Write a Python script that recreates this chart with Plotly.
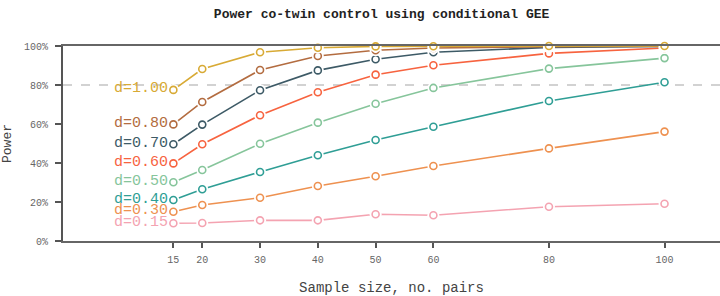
import plotly.graph_objects as go

sample_sizes = [15, 20, 30, 40, 50, 60, 80, 100]
labels = ["d=0.15", "d=0.30", "d=0.40", "d=0.50", "d=0.60", "d=0.70", "d=0.80", "d=1.00"]
colors = ["#F4A3B1", "#EE9150", "#2F9E95", "#86C59B", "#F7633F", "#3D5A66", "#B36C40", "#D8AA35"]

power_d015 = [0.091, 0.092, 0.106, 0.106, 0.137, 0.132, 0.176, 0.191]
power_d030 = [0.150, 0.185, 0.222, 0.282, 0.332, 0.385, 0.475, 0.561]
power_d040 = [0.210, 0.265, 0.354, 0.440, 0.518, 0.586, 0.718, 0.814]
power_d050 = [0.301, 0.364, 0.499, 0.607, 0.704, 0.785, 0.884, 0.938]
power_d060 = [0.398, 0.496, 0.645, 0.763, 0.853, 0.901, 0.962, 0.990]
power_d070 = [0.496, 0.597, 0.773, 0.875, 0.932, 0.968, 0.993, 0.998]
power_d080 = [0.598, 0.713, 0.877, 0.949, 0.978, 0.990, 0.996, 0.999]
power_d100 = [0.775, 0.882, 0.968, 0.991, 0.998, 0.999, 1.000, 1.000]

series = [power_d015, power_d030, power_d040, power_d050,
          power_d060, power_d070, power_d080, power_d100]

y_ticks = [0, 0.2, 0.4, 0.6, 0.8, 1.0]
y_tick_text = ["0%", "20%", "40%", "60%", "80%", "100%"]

FONT = "Courier New, Liberation Mono, monospace"

fig = go.Figure()

for lab, col, vals in zip(labels, colors, series):
    fig.add_trace(go.Scatter(x=sample_sizes, y=vals, mode="lines",
                             line=dict(color=col, width=1.6),
                             cliponaxis=False, hoverinfo="skip", showlegend=False))
    fig.add_trace(go.Scatter(x=sample_sizes, y=vals, mode="markers",
                             marker=dict(symbol="circle", size=12, color="white",
                                         line=dict(width=0)),
                             cliponaxis=False, hoverinfo="skip", showlegend=False))
    fig.add_trace(go.Scatter(x=sample_sizes, y=vals, mode="markers", name=lab,
                             marker=dict(symbol="circle-open", size=7, color=col,
                                         line=dict(width=1.6, color=col)),
                             cliponaxis=False, showlegend=False))
    fig.add_annotation(x=sample_sizes[0], y=vals[0], text=lab, showarrow=False,
                       xanchor="right", yanchor="middle", xshift=-3, yshift=1,
                       font=dict(family=FONT, size=15, color=col))

fig.add_shape(type="line", xref="paper", x0=0, x1=1, yref="y", y0=0.8, y1=0.8,
              line=dict(color="#C4C4C4", width=1.3, dash="dash"), layer="below")

fig.update_layout(
    width=720, height=296,
    margin=dict(l=63, r=0, t=46, b=55),
    paper_bgcolor="white", plot_bgcolor="white",
    title=dict(text="<b>Power co-twin control using conditional GEE</b>",
               x=0.53, xanchor="center", y=0.955, yanchor="middle",
               font=dict(family=FONT, size=13, color="#222222")),
    xaxis=dict(range=[-4.1, 109.6], tickvals=sample_sizes,
               ticktext=[str(s) for s in sample_sizes],
               showgrid=False, zeroline=False, automargin=False,
               showline=True, linecolor="#666666", linewidth=1.8, mirror=True,
               ticks="outside", ticklen=5, tickwidth=1.5, tickcolor="#555555",
               ticklabelstandoff=3,
               tickfont=dict(family=FONT, size=10, color="#666666"),
               title=dict(text="Sample size, no. pairs", standoff=20,
                          font=dict(family=FONT, size=14, color="#444444"))),
    yaxis=dict(range=[0, 1], tickvals=y_ticks, ticktext=y_tick_text,
               showgrid=False, zeroline=False, automargin=False,
               showline=True, linecolor="#555555", linewidth=2,
               ticks="outside", ticklen=6, tickwidth=1.5, tickcolor="#555555",
               ticklabelstandoff=5,
               tickfont=dict(family=FONT, size=10, color="#666666"),
               title=dict(text="Power", standoff=12,
                          font=dict(family=FONT, size=13, color="#444444"))),
)

fig.write_html("out.html", config={"displayModeBar": False},
               post_script="document.body.style.margin='0px';")
